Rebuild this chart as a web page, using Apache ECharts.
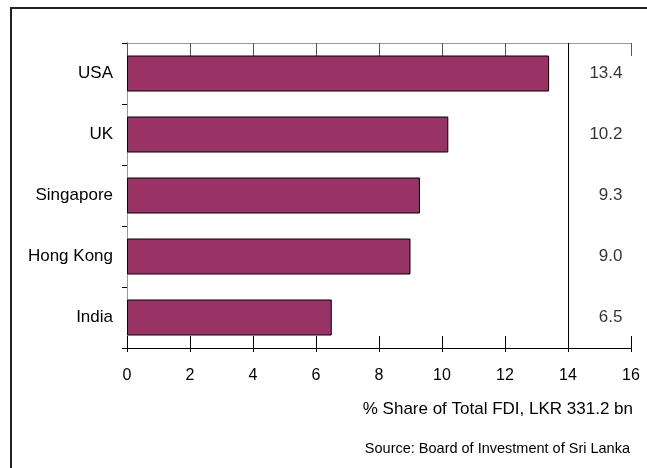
<!DOCTYPE html>
<html>
<head>
<meta charset="utf-8">
<script src="https://cdn.jsdelivr.net/npm/echarts@6/dist/echarts.min.js"></script>
<style>
html,body{margin:0;padding:0;background:#fff;}
#chart{width:647px;height:468px;}
</style>
</head>
<body>
<div id="chart"></div>
<script>
const categories = ["USA", "UK", "Singapore", "Hong Kong", "India"];
const shares = [13.4, 10.2, 9.3, 9.0, 6.5];
const tickLabels = ["0", "2", "4", "6", "8", "10", "12", "14", "16"];
const axisTitle = "% Share of Total FDI, LKR 331.2 bn";
const sourceText = "Source: Board of Investment of Sri Lanka";

const FONT = "Liberation Sans, Arial, sans-serif";
const chart = echarts.init(document.getElementById('chart'), null, {renderer: 'canvas'});

const xBase = {type: 'value', min: 0, max: 16, interval: 2, splitLine: {show: false}};

chart.setOption({
  animation: false,
  backgroundColor: '#fff',
  grid: {left: 127, right: 16, top: 43, bottom: 120, containLabel: false},
  xAxis: [
    Object.assign({}, xBase, {
      position: 'bottom',
      axisLine: {show: true, lineStyle: {color: '#000', width: 1}},
      axisTick: {show: true, inside: false, length: 4, lineStyle: {color: '#000'}},
      axisLabel: {color: '#000', fontSize: 16, fontFamily: FONT, margin: 20,
        formatter: function (v) { return tickLabels[Math.round(v / 2)]; }}
    }),
    Object.assign({}, xBase, {
      position: 'bottom',
      axisLine: {show: false},
      axisTick: {show: true, inside: true, length: 12, lineStyle: {color: '#000'}},
      axisLabel: {show: false}
    }),
    Object.assign({}, xBase, {
      position: 'top',
      axisLine: {show: true, lineStyle: {color: '#999', width: 1}},
      axisTick: {show: true, inside: true, length: 13, lineStyle: {color: '#555'}},
      axisLabel: {show: false}
    })
  ],
  yAxis: [
    {
      type: 'category', data: categories, inverse: true,
      axisLine: {show: true, lineStyle: {color: '#000'}},
      axisTick: {show: true, inside: false, length: 5, lineStyle: {color: '#000'}},
      axisLabel: {color: '#000', fontSize: 17, fontFamily: FONT, margin: 14},
      splitLine: {show: false}
    },
    {
      type: 'category', data: categories, inverse: true, position: 'right',
      axisLine: {show: true, lineStyle: {color: '#999'}},
      axisTick: {show: false}, axisLabel: {show: false}, splitLine: {show: false}
    }
  ],
  series: [
    {
      type: 'bar', data: shares, barWidth: 36,
      itemStyle: {color: '#993366', borderColor: '#000', borderWidth: 1},
      markLine: {
        silent: true, symbol: ['none', 'none'], label: {show: false},
        lineStyle: {color: '#000', width: 1, type: 'solid'},
        data: [{xAxis: 14}]
      }
    },
    {
      type: 'scatter', symbolSize: 0,
      data: shares.map(function (v, i) { return [15, categories[i], v]; }),
      label: {show: true, position: 'inside', align: 'right', offset: [23, 0],
        color: '#000', fontSize: 17, fontFamily: FONT,
        formatter: function (p) { return p.value[2].toFixed(1); }}
    }
  ],
  graphic: [
    {type: 'rect', shape: {x: 11, y: 8, width: 700, height: 600},
      style: {fill: 'none', stroke: '#222', lineWidth: 2}, silent: true},
    {type: 'text', right: 14, top: 401,
      style: {text: axisTitle, fill: '#000', font: '17px ' + FONT, textAlign: 'right'}},
    {type: 'text', right: 17, top: 441,
      style: {text: sourceText, fill: '#000', font: '14.5px ' + FONT, textAlign: 'right'}}
  ]
});
</script>
</body>
</html>
